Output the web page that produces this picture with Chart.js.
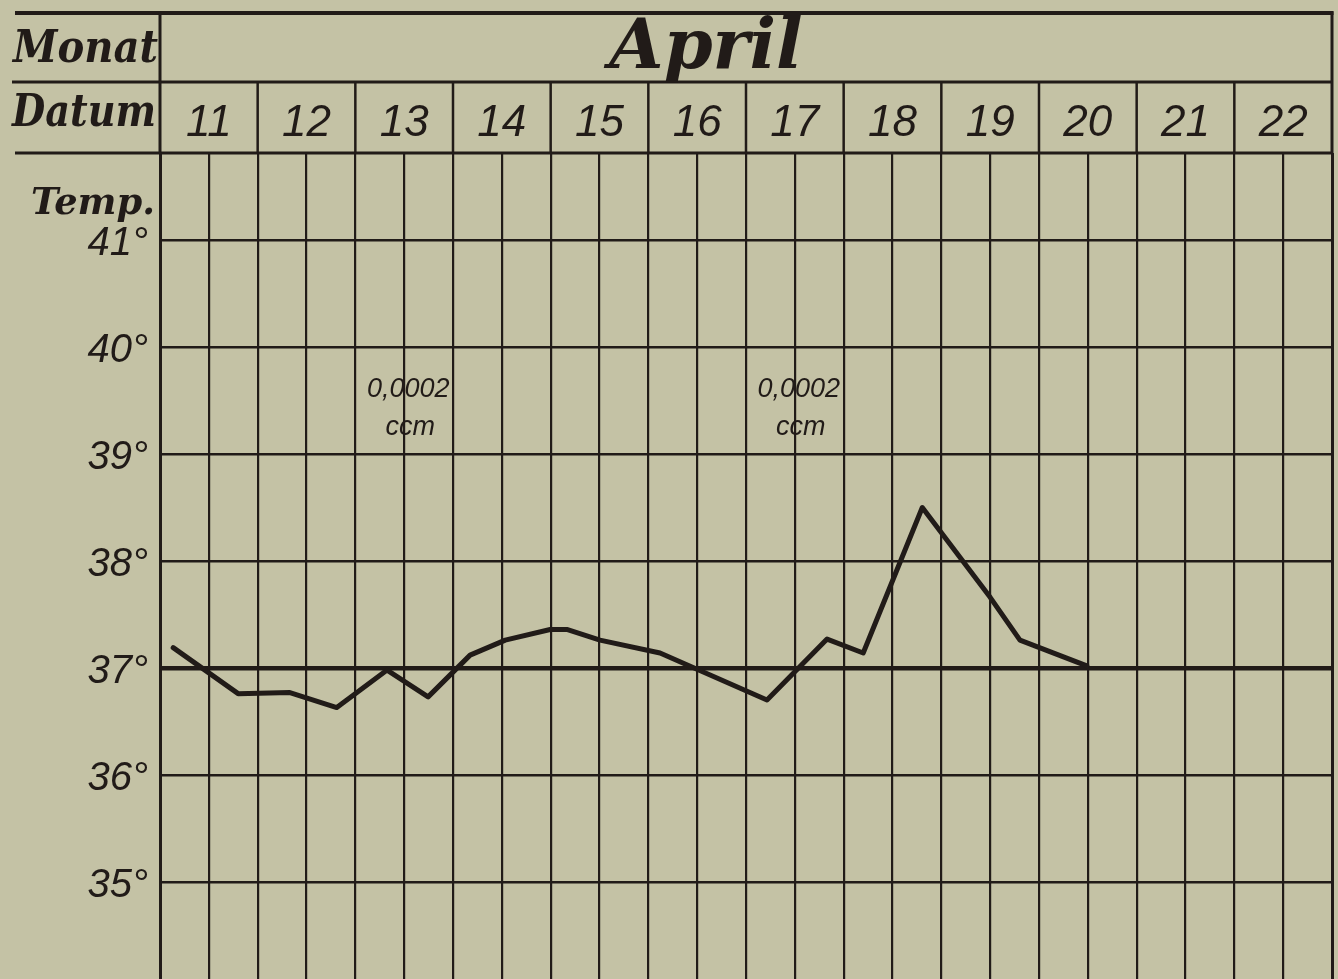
<!DOCTYPE html>
<html>
<head>
<meta charset="utf-8">
<script src="https://cdn.jsdelivr.net/npm/chart.js@4/dist/chart.umd.min.js"></script>
<style>
  html, body { margin: 0; padding: 0; background: #c4c2a5; overflow: hidden; }
  #wrap { width: 1338px; height: 979px; position: relative; }
</style>
</head>
<body>
<div id="wrap"><canvas id="c"></canvas></div>
<script>
// ---- data ----
const monthLabel = 'April';
const dayLabels = ['11', '12', '13', '14', '15', '16', '17', '18', '19', '20', '21', '22'];
const rowLabels = ['Monat', 'Datum', 'Temp.'];
const tempTicks = [35, 36, 37, 38, 39, 40, 41];
// position of each reading, in half-day columns counted from the start of April 11
const readingSlot = [0.27, 1.60, 2.66, 3.62, 4.65, 5.49, 6.35, 7.07, 7.99, 8.33, 9.01, 10.24, 12.43, 13.66, 14.40, 15.61, 17.00, 17.61, 18.98];
const temperature = [37.19, 36.76, 36.77, 36.63, 36.98, 36.73, 37.12, 37.26, 37.36, 37.36, 37.26, 37.14, 36.70, 37.27, 37.14, 38.50, 37.66, 37.26, 37.02];
// injection notes
const doseDays = ['13', '17'];
const doseText = ['0,0002', 'ccm'];

const INK = '#211b18';
const SCRIPT = '"DejaVu Serif", serif';
const NUMF = '"Liberation Sans", sans-serif';

const points = readingSlot.map((s, i) => ({ x: s, y: temperature[i] }));

const headerPlugin = {
  id: 'header',
  afterDraw(chart) {
    const { ctx, chartArea: ca, scales } = chart;
    const x = scales.x, y = scales.y;
    const top = 13, mid = 82, bot = ca.top;
    const ln = (x1, y1, x2, y2) => { ctx.beginPath(); ctx.moveTo(x1, y1); ctx.lineTo(x2, y2); ctx.stroke(); };
    ctx.save();
    ctx.strokeStyle = INK;
    ctx.fillStyle = INK;
    ctx.lineWidth = 4;
    ln(15, top, ca.right + 1.5, top);
    ctx.lineWidth = 3;
    ln(12, mid, ca.right, mid);
    ln(15, bot, ca.right, bot);
    ln(ca.left, top, ca.left, bot);
    ln(ca.right, top - 1.5, ca.right, bot);
    ctx.lineWidth = 2.5;
    for (let d = 1; d < dayLabels.length; d++) {
      const px = x.getPixelForValue(d * 2);
      ln(px, mid, px, bot);
    }
    // row labels
    ctx.textBaseline = 'alphabetic';
    ctx.textAlign = 'left';
    ctx.font = 'italic bold 44px ' + SCRIPT;
    ctx.fillText(rowLabels[0], 13, 62, 145);
    ctx.fillText(rowLabels[1], 12, 126, 144);
    ctx.textAlign = 'right';
    ctx.font = 'italic bold 38px ' + SCRIPT;
    ctx.fillText(rowLabels[2], 155, 214, 124);
    // month
    ctx.textAlign = 'center';
    ctx.font = 'italic bold 70px ' + SCRIPT;
    ctx.fillText(monthLabel, (ca.left + ca.right) / 2 - 40, 68, 210);
    // day numbers
    ctx.font = 'italic 44px ' + NUMF;
    dayLabels.forEach((d, i) => {
      ctx.fillText(d, x.getPixelForValue(i * 2 + 1), 136);
    });
    // dose notes
    ctx.font = 'italic 27px ' + NUMF;
    doseDays.forEach(day => {
      const i = dayLabels.indexOf(day);
      const px = x.getPixelForValue(i * 2 + 1) + 4;
      const py = y.getPixelForValue(39.45);
      ctx.fillText(doseText[0], px, py - 9);
      ctx.fillText(doseText[1], px + 2, py + 29);
    });
    ctx.restore();
  }
};

new Chart(document.getElementById('c'), {
  type: 'line',
  data: {
    datasets: [{
      data: points,
      borderColor: INK,
      borderWidth: 5,
      pointRadius: 0,
      tension: 0,
      borderCapStyle: 'round',
      borderJoinStyle: 'round',
      fill: false
    }]
  },
  options: {
    responsive: true,
    maintainAspectRatio: false,
    animation: false,
    layout: { padding: { top: 153, right: 6, left: 0, bottom: 0 } },
    plugins: { legend: { display: false }, tooltip: { enabled: false }, title: { display: false } },
    scales: {
      x: {
        type: 'linear', min: 0, max: 24, position: 'bottom',
        afterBuildTicks: s => { s.ticks = Array.from({ length: 25 }, (_, i) => ({ value: i })); },
        afterFit: s => { s.height = 0; s.paddingLeft = 0; s.paddingRight = 0; s.paddingTop = 0; s.paddingBottom = 0; },
        ticks: { display: false },
        grid: {
          color: INK,
          lineWidth: c => (c.tick && (c.tick.value === 0 || c.tick.value === 24)) ? 3 : 2.2,
          drawTicks: false
        },
        border: { display: false }
      },
      y: {
        type: 'linear', min: 34.093, max: 41.813,
        afterBuildTicks: s => { s.ticks = tempTicks.map(v => ({ value: v })); },
        afterFit: s => { s.width = 160; s.paddingTop = 0; s.paddingBottom = 0; s.paddingLeft = 0; s.paddingRight = 0; },
        grid: {
          color: INK,
          lineWidth: c => (c.tick && c.tick.value === 37) ? 4.5 : 2.5,
          drawTicks: false
        },
        border: { display: true, color: INK, width: 3 },
        ticks: {
          padding: 12,
          labelOffset: 4,
          color: INK,
          font: { family: 'Liberation Sans', style: 'italic', size: 40 },
          callback: v => v + '°'
        }
      }
    }
  },
  plugins: [headerPlugin]
});
</script>
</body>
</html>
